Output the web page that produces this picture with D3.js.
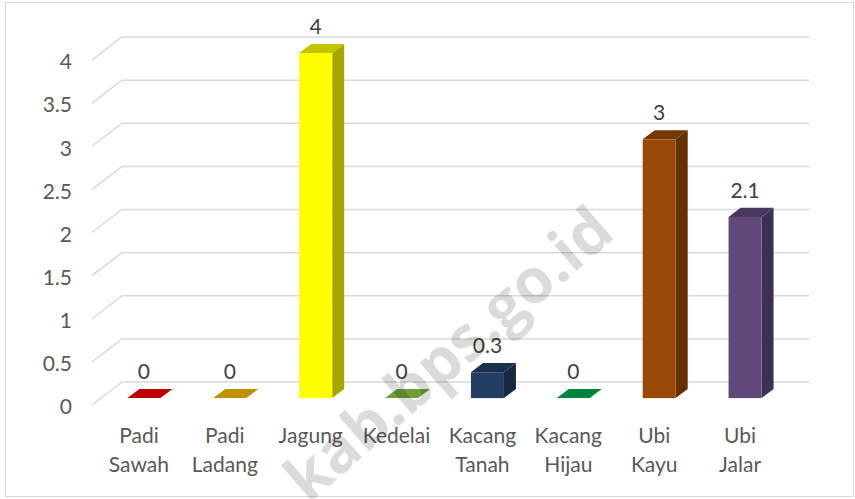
<!DOCTYPE html>
<html>
<head>
<meta charset="utf-8">
<script src="https://cdn.jsdelivr.net/npm/d3@7"></script>
<style>
  body { margin: 0; background: #fff; }
  svg { display: block; font-family: Lato, 'Open Sans', sans-serif; }
</style>
</head>
<body>
<svg id="chart"></svg>
<script>
const categories = ['Padi Sawah', 'Padi Ladang', 'Jagung', 'Kedelai', 'Kacang Tanah', 'Kacang Hijau', 'Ubi Kayu', 'Ubi Jalar'];
const values = [0, 0, 4, 0, 0.3, 0, 3, 2.1];
const colors = ['#C00000', '#BF9000', '#FFFF00', '#6E9E3A', '#223F63', '#00843D', '#984807', '#5F497A'];
const yTicks = [0, 0.5, 1, 1.5, 2, 2.5, 3, 3.5, 4];

const W = 855, H = 499;
// depth of the 3d box (back wall offset) and where the bars sit in it
const DEPTH = { dx: 30, dy: -23 };
const BAR_T0 = 0.3, BAR_T1 = 0.7;
const BAR_W = 33;

const svg = d3.select('#chart').attr('width', W).attr('height', H);

// chart border
svg.append('rect')
  .attr('x', 5.5).attr('y', 2.5)
  .attr('width', W - 7).attr('height', H - 5)
  .attr('fill', 'none')
  .attr('stroke', '#d9d9d9');

const x = d3.scaleBand().domain(categories).range([92, 779]);
const y = d3.scaleLinear().domain([0, 4]).range([405, 60]);

// gridlines: side wall diagonal + back wall horizontal
const grid = svg.append('g').attr('class', 'grid')
  .attr('stroke', '#d9d9d9').attr('stroke-width', 1.5).attr('fill', 'none');
grid.selectAll('path')
  .data(yTicks)
  .enter()
  .append('path')
  .attr('d', d => {
    const x0 = x.range()[0], x1 = x.range()[1];
    return `M${x0},${y(d)}L${x0 + DEPTH.dx},${y(d) + DEPTH.dy}L${x1 + DEPTH.dx},${y(d) + DEPTH.dy}`;
  });

// y axis labels
svg.append('g')
  .attr('class', 'y-axis')
  .attr('transform', 'translate(72,0)')
  .call(d3.axisLeft(y).tickValues(yTicks).tickSize(0).tickPadding(0).tickFormat(d3.format('')))
  .call(g => g.select('.domain').remove())
  .selectAll('text')
  .attr('dy', '0.42em')
  .style('font-family', 'Lato, sans-serif')
  .style('font-size', '21px')
  .attr('fill', '#595959');

// bars
const data = categories.map((c, i) => ({ name: c, value: values[i], color: colors[i] }));
const fx = d => x(d.name) + x.bandwidth() / 2 - BAR_W / 2 + DEPTH.dx * BAR_T0;
const fy0 = y(0) + DEPTH.dy * BAR_T0;
const fyTop = d => y(d.value) + DEPTH.dy * BAR_T0;
const ddx = DEPTH.dx * (BAR_T1 - BAR_T0), ddy = DEPTH.dy * (BAR_T1 - BAR_T0);

const bars = svg.append('g').attr('class', 'bars')
  .selectAll('g')
  .data(data)
  .enter()
  .append('g');

bars.filter(d => d.value > 0)
  .append('path')
  .attr('d', d => {
    const x0 = fx(d), x1 = x0 + BAR_W, t = fyTop(d);
    return `M${x1},${t}L${x1 + ddx},${t + ddy}L${x1 + ddx},${fy0 + ddy}L${x1},${fy0}Z`;
  })
  .attr('fill', d => d3.color(d.color).darker(1.2));

bars.append('path')
  .attr('d', d => {
    const x0 = fx(d), x1 = x0 + BAR_W, t = fyTop(d);
    return `M${x0},${t}L${x1},${t}L${x1 + ddx},${t + ddy}L${x0 + ddx},${t + ddy}Z`;
  })
  .attr('fill', d => d.value > 0 ? d3.color(d.color).darker(0.75) : d.color);

bars.filter(d => d.value > 0)
  .append('rect')
  .attr('x', fx)
  .attr('y', fyTop)
  .attr('width', BAR_W)
  .attr('height', d => fy0 - fyTop(d))
  .attr('fill', d => d.color);

// value labels
svg.append('g')
  .selectAll('text')
  .data(data)
  .enter()
  .append('text')
  .attr('x', d => fx(d) + BAR_W / 2)
  .attr('y', d => fyTop(d) - 19)
  .attr('text-anchor', 'middle')
  .attr('fill', '#404040')
  .style('font-size', '21px')
  .text(d => d.value);

// category labels
const cat = svg.append('g')
  .selectAll('text')
  .data(categories)
  .enter()
  .append('text')
  .attr('x', d => x(d) + x.bandwidth() / 2 + 4)
  .attr('y', 443)
  .attr('text-anchor', 'middle')
  .attr('fill', '#595959')
  .style('font-size', '21px');
cat.selectAll('tspan')
  .data(d => d.split(' '))
  .enter()
  .append('tspan')
  .attr('x', function () { return d3.select(this.parentNode).attr('x'); })
  .attr('dy', (d, i) => i === 0 ? 0 : 29)
  .text(d => d);

// watermark
svg.append('text')
  .attr('transform', 'translate(617,236) rotate(-41)')
  .attr('text-anchor', 'end')
  .attr('fill', '#000')
  .attr('fill-opacity', 0.14)
  .style('font-family', "'Open Sans', sans-serif")
  .style('font-weight', 700)
  .style('font-size', '62px')
  .text('kab.bps.go.id');
</script>
</body>
</html>
